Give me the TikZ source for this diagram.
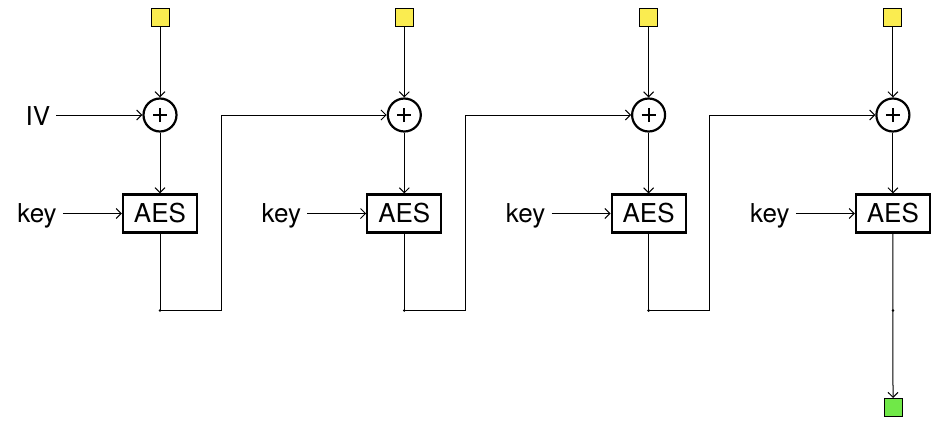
\documentclass[tikz,border=0pt]{standalone}
\usepackage{fontspec}
\setmainfont{TeX Gyre Heros}
\usetikzlibrary{arrows.meta}
\definecolor{inyel}{RGB}{250,236,80}
\definecolor{outgrn}{RGB}{112,232,72}
\begin{document}
\begin{tikzpicture}[x=1pt,y=-1pt,
  arr/.style={-{Straight Barb[length=5pt,width=10pt]}, line width=1pt},
  aes/.style={draw, line width=2.2pt, minimum width=74pt, minimum height=38pt, inner sep=0pt, font=\fontsize{26}{30}\selectfont},
  xor/.style={draw, circle, line width=2.2pt, minimum size=33pt, inner sep=0pt,
    path picture={\draw[line width=2pt] ([xshift=-7pt]path picture bounding box.center) -- ([xshift=7pt]path picture bounding box.center)
      ([yshift=-7pt]path picture bounding box.center) -- ([yshift=7pt]path picture bounding box.center);}},
  insq/.style={draw, fill=inyel, minimum size=18pt, inner sep=0pt, line width=1pt},
  outsq/.style={draw, fill=outgrn, minimum size=18pt, inner sep=0pt, line width=1pt},
  lbl/.style={font=\fontsize{26}{30}\selectfont, inner xsep=6pt, inner ysep=0pt},
  jdot/.style={circle, fill, inner sep=0pt, minimum size=2.8pt}]
\useasboundingbox (0,0) rectangle (944,436);
\foreach \i in {0,1,2,3}{
  \pgfmathsetmacro{\cx}{160+244.3*\i}
  \node[insq] (in\i) at (\cx,17.5) {};
  \node[xor] (x\i) at (\cx,115) {};
  \node[aes] (aes\i) at (\cx,213.5) {AES};
  \node[lbl, anchor=base] (k\i) at (\cx-123,222) {key};
  \coordinate (d\i) at (\cx,310.5);
  \coordinate (t\i) at (\cx+61,310.5);
  \draw[arr] (in\i) -- (x\i);
  \draw[arr] (x\i) -- (aes\i);
  \draw[arr] (k\i.east |- aes\i.west) -- (aes\i.west);
  \node[jdot] at (d\i) {};
}
\node[lbl, anchor=base] (iv) at (38,125.5) {IV};
\draw[arr] (iv.east |- x0.west) -- (x0.west);
\foreach \i/\j in {0/1,1/2,2/3}{
  \draw[arr] (aes\i.south) -- (d\i) -- (t\i) |- (x\j.west);
}
\node[outsq] (out) at (893,407.5) {};
\draw[arr] (aes3.south) -- (d3) -- (out.north);
\end{tikzpicture}
\end{document}
